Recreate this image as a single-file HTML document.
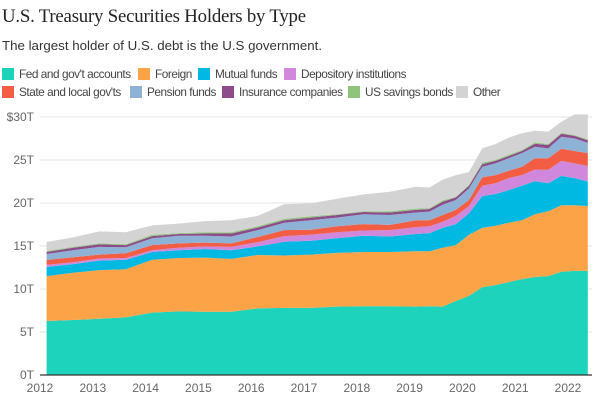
<!DOCTYPE html>
<html><head><meta charset="utf-8"><style>
body{margin:0;background:#fff;width:601px;height:401px;overflow:hidden;font-family:"Liberation Sans",sans-serif;}
#title{position:absolute;left:2px;top:6px;font-family:"Liberation Serif",serif;font-size:18.8px;color:#222;letter-spacing:-0.2px}
#sub{position:absolute;left:2px;top:38px;font-size:13.3px;color:#333}
.leg{position:absolute;font-size:11.8px;letter-spacing:-0.45px;color:#444;white-space:nowrap}
.leg i{display:inline-block;width:12px;height:12px;vertical-align:-2px;margin-right:5px}
svg{position:absolute;left:0;top:0}
</style></head><body>
<div id="title">U.S. Treasury Securities Holders by Type</div>
<div id="sub">The largest holder of U.S. debt is the U.S government.</div>
<div id="legend"></div>
<svg id="chart" width="601" height="401"></svg>
<script>
const dates=[2012.125,2012.625,2013.125,2013.625,2014.125,2014.625,2015.125,2015.625,2016.125,2016.625,2017.125,2017.625,2018.125,2018.625,2019.125,2019.375,2019.625,2019.875,2020.125,2020.375,2020.625,2020.875,2021.125,2021.375,2021.625,2021.875,2022.125,2022.375];
const fed=[6.28,6.4,6.55,6.7,7.25,7.4,7.35,7.35,7.75,7.8,7.8,7.95,8.0,8.0,7.95,8.0,7.95,8.6,9.2,10.2,10.45,10.8,11.15,11.4,11.5,12.0,12.1,12.1];
const foreign=[5.22,5.5,5.65,5.6,6.15,6.2,6.3,6.15,6.2,6.1,6.2,6.25,6.3,6.3,6.45,6.4,6.85,6.5,7.1,6.9,6.9,6.9,6.85,7.3,7.55,7.75,7.65,7.55];
const mutual=[1.06,1.0,1.1,1.1,0.9,0.9,1.0,1.0,1.0,1.6,1.6,1.7,1.9,1.8,2.0,2.1,2.3,2.45,2.5,3.7,3.7,3.8,4.0,3.85,3.25,3.4,3.15,2.85];
const depository=[0.24,0.2,0.25,0.2,0.2,0.3,0.3,0.4,0.5,0.65,0.7,0.7,0.6,0.75,0.8,0.8,0.7,0.95,0.85,1.2,1.25,1.4,1.25,1.35,1.55,1.75,1.7,1.8];
const stateLocal=[0.57,0.6,0.45,0.55,0.6,0.5,0.45,0.4,0.6,0.7,0.6,0.7,0.75,0.6,0.8,0.7,0.8,0.7,0.7,1.0,0.95,0.85,0.95,1.3,1.35,1.4,1.45,1.5];
const pension=[0.7,0.8,0.9,0.7,0.8,0.9,0.8,0.8,0.8,0.85,1.1,1.0,1.15,1.15,0.9,1.0,1.2,1.15,1.35,1.2,1.35,1.45,1.6,1.35,1.15,1.4,1.45,1.2];
const insurance=[0.23,0.3,0.3,0.25,0.25,0.2,0.25,0.35,0.3,0.3,0.3,0.3,0.25,0.3,0.3,0.3,0.35,0.3,0.3,0.3,0.3,0.25,0.25,0.35,0.4,0.35,0.3,0.3];
const savings=[0.12,0.1,0.1,0.1,0.15,0.1,0.15,0.15,0.15,0.15,0.15,0.1,0.1,0.15,0.15,0.1,0.15,0.05,0.1,0.2,0.1,0.15,0.1,0.15,0.1,0.1,0.1,0.1];
const other=[1.05,1.1,1.4,1.4,1.1,1.1,1.3,1.4,1.2,1.7,1.5,1.8,1.95,2.25,2.55,2.4,2.4,2.55,1.5,1.65,1.85,2.0,1.95,1.35,1.45,1.3,2.4,2.9];
const seriesNames=["Fed and gov't accounts","Foreign","Mutual funds","Depository institutions","State and local gov'ts","Pension funds","Insurance companies","US savings bonds","Other"];
const yTicks=[0,5,10,15,20,25,30];
const xTicks=[2012,2013,2014,2015,2016,2017,2018,2019,2020,2021,2022];

const series=[fed,foreign,mutual,depository,stateLocal,pension,insurance,savings,other];
const colors=["#1dd3bb","#fba346","#00b9e3","#d088dd","#f35d43","#8eb2d6","#8d4b8b","#8fc57a","#d3d3d3"];
const X=t=>40+52.8*(t-2012);
const Y=v=>375-8.6*v;
const NS="http://www.w3.org/2000/svg";
const svg=document.getElementById('chart');
function mk(tag,attrs){const e=document.createElementNS(NS,tag);for(const k in attrs)e.setAttribute(k,attrs[k]);svg.appendChild(e);return e;}
yTicks.forEach(v=>{
  const g=mk('line',{x1:40,x2:592,y1:Y(v),y2:Y(v),stroke:'#e3e3e3','stroke-width':1});
  
  
  const t=mk('text',{x:34,y:Y(v)+4,'text-anchor':'end','font-size':12,fill:'#666','font-family':'Liberation Sans, sans-serif'});
  t.textContent=(v===30?'$':'')+v+'T';
  
  
});
let base=dates.map(()=>0);
series.forEach((s,i)=>{
  const top=base.map((b,j)=>b+s[j]);
  let d='M'+dates.map((t,j)=>X(t).toFixed(1)+','+Y(top[j]).toFixed(1)).join('L');
  for(let j=dates.length-1;j>=0;j--)d+='L'+X(dates[j]).toFixed(1)+','+Y(base[j]).toFixed(1);
  const p=mk('path',{d:d+'Z',fill:colors[i]});
  
  
  base=top;
});
const ax=mk('line',{x1:40,x2:592,y1:375,y2:375,stroke:'#333','stroke-width':1.2});


xTicks.forEach(t=>{
  const e=mk('text',{x:X(t),y:392,'text-anchor':'middle','font-size':12,fill:'#666','font-family':'Liberation Sans, sans-serif'});
  e.textContent=t;
  
  
});
const legPos=[[2,67],[138,67],[198,67],[284,67],[2,85],[130,85],[222,85],[348,85],[456,85]];
const leg=document.getElementById('legend');
seriesNames.forEach((n,i)=>{
  const d=document.createElement('div');
  d.className='leg';
  d.style.left=legPos[i][0]+'px';d.style.top=legPos[i][1]+'px';
  d.innerHTML='<i style="background:'+colors[i]+'"></i>'+n;
  
  
  leg.appendChild(d);
});
</script>
</body></html>
